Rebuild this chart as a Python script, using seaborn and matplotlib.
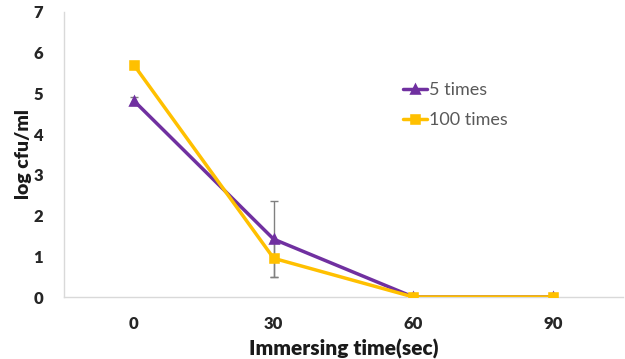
import pandas as pd
import matplotlib.pyplot as plt
import seaborn as sns
import numpy as np

times = ["0", "30", "60", "90"]
vals_5 = [4.82, 1.42, 0.0, 0.0]
vals_100 = [5.70, 0.95, 0.0, 0.0]
err_5 = [0.10, 0.93, 0.0, 0.0]
err_100 = [0.08, 0.45, 0.0, 0.0]
series = ["5 times", "100 times"]
colors = ["#7030A0", "#FFC000"]

df = pd.DataFrame({
    "time": times * 2,
    "logcfu": vals_5 + vals_100,
    "series": [series[0]] * 4 + [series[1]] * 4,
})

sns.set_style("white")
plt.rcParams['font.family'] = ['Lato', 'DejaVu Sans']

fig = plt.figure(figsize=(6.25, 3.59), dpi=100)
ax = fig.add_axes([0.1024, 0.1727, 0.8946, 0.7939])

# error bars first so lines sit on top
for vals, errs in [(vals_5, err_5), (vals_100, err_100)]:
    ax.errorbar(np.arange(len(times)), vals, yerr=errs, fmt='none',
                ecolor='#808080', elinewidth=1, capsize=3, capthick=1, zorder=1)

sns.pointplot(data=df, x="time", y="logcfu", hue="series", order=times,
              hue_order=series, palette=colors, markers=["^", "s"],
              markersize=6, linewidth=2.5, ax=ax, errorbar=None, zorder=3)

ax.set_ylim(0, 7)
ax.set_xlim(-0.5, 3.5)
ax.set_yticks(range(8))
ax.set_xlabel("Immersing time(sec)", fontsize=15, fontweight='heavy', color='#1a1a1a', labelpad=5)
ax.set_ylabel("log cfu/ml", fontsize=14, fontweight='heavy', color='#1a1a1a', labelpad=1)

for lbl in ax.get_xticklabels() + ax.get_yticklabels():
    lbl.set_fontweight('heavy')
    lbl.set_fontsize(12)
    lbl.set_color('#262626')

ax.tick_params(axis='x', length=0, pad=14)
ax.tick_params(axis='y', direction='in', length=4, color='#d9d9d9', pad=15)
ax.set_xticks([0.5, 1.5, 2.5, 3.5], minor=True)
ax.tick_params(axis='x', which='minor', direction='in', length=5, color='#d9d9d9')

for side in ['top', 'right']:
    ax.spines[side].set_visible(False)
for side in ['left', 'bottom']:
    ax.spines[side].set_color('#d9d9d9')
    ax.spines[side].set_linewidth(1)

leg = ax.legend(loc='upper left', bbox_to_anchor=(0.578, 0.81), frameon=False,
                fontsize=13, handlelength=1.3, handletextpad=0.1, labelspacing=0.75)
for t in leg.get_texts():
    t.set_color('#595959')

fig.savefig("out.png", dpi=100)
